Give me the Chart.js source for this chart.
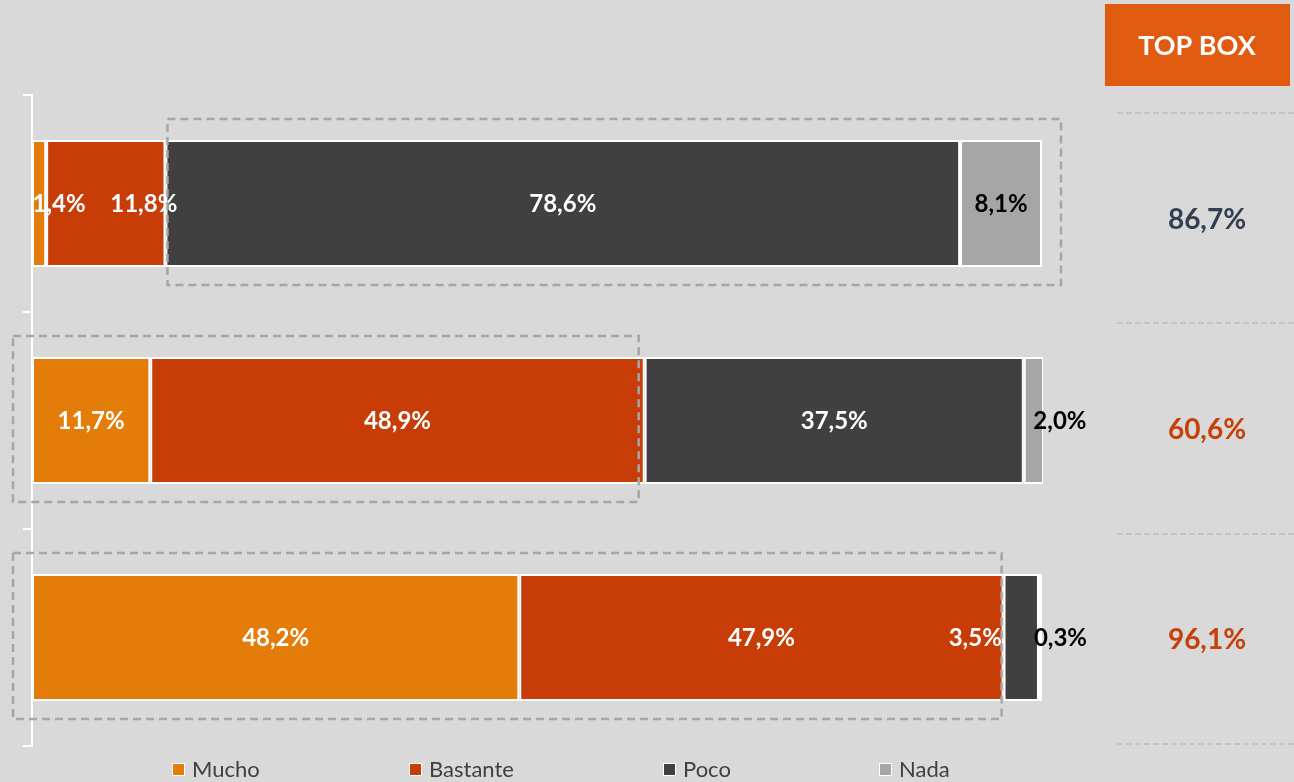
<!DOCTYPE html>
<html>
<head>
<meta charset="utf-8">
<script src="https://cdn.jsdelivr.net/npm/chart.js@4.4.1/dist/chart.umd.min.js"></script>
<style>
  body { margin: 0; background: #d9d9d9; }
  #wrap { width: 1294px; height: 782px; position: relative; }
</style>
</head>
<body>
<div id="wrap"><canvas id="topBoxChart"></canvas></div>
<script>
// Datos del gráfico
const categorias = ['Grupo 1', 'Grupo 2', 'Grupo 3'];
const series = ['Mucho', 'Bastante', 'Poco', 'Nada'];
const mucho = [1.4, 11.7, 48.2];
const bastante = [11.8, 48.9, 47.9];
const poco = [78.6, 37.5, 3.5];
const nada = [8.1, 2.0, 0.3];
const topBox = [86.7, 60.6, 96.1];
// series que suman el top box en cada fila
const topBoxSeries = [[2, 3], [0, 1], [0, 1]];

const colores = ['#e37c09', '#c83d07', '#404040', '#a6a6a6'];
const fuente = 'Lato, "Open Sans", sans-serif';

function fmt(v) {
  return v.toFixed(1).replace('.', ',') + '%';
}

// ajustes de posición de etiquetas pequeñas (fila-serie -> dx)
const ajusteEtiqueta = { '0-0': 20, '0-1': 38, '1-3': 26, '2-2': -46, '2-3': 20 };

const etiquetasPlugin = {
  id: 'etiquetas',
  afterDatasetsDraw(chart) {
    const ctx = chart.ctx;
    const xs = chart.scales.x;
    ctx.save();
    ctx.font = 'bold 24px ' + fuente;
    ctx.textAlign = 'center';
    ctx.textBaseline = 'middle';
    chart.data.datasets.forEach((ds, di) => {
      const meta = chart.getDatasetMeta(di);
      meta.data.forEach((bar, i) => {
        const k = i + '-' + di;
        const x = (bar.x + bar.base) / 2 + (ajusteEtiqueta[k] || 0);
        ctx.fillStyle = di === 3 ? '#000000' : '#ffffff';
        ctx.fillText(fmt(ds.data[i]), x, bar.y + 1);
      });
    });

    // cajas punteadas del top box
    ctx.strokeStyle = '#a6a6a6';
    ctx.lineWidth = 2.5;
    ctx.setLineDash([8, 5]);
    const padIzq = [-2, 19, 19];
    const padDer = [19, -6, -2];
    topBoxSeries.forEach((sel, i) => {
      let ini = 0;
      for (let d = 0; d < sel[0]; d++) ini += chart.data.datasets[d].data[i];
      let fin = ini;
      sel.forEach(d => fin += chart.data.datasets[d].data[i]);
      const bar = chart.getDatasetMeta(0).data[i];
      const x0 = xs.getPixelForValue(ini) - padIzq[i];
      const x1 = xs.getPixelForValue(fin) + padDer[i];
      const y0 = bar.y - bar.height / 2 - 21;
      const y1 = bar.y + bar.height / 2 + 18;
      ctx.strokeRect(x0, y0, x1 - x0, y1 - y0);
    });
    ctx.restore();
  },
  afterDraw(chart) {
    const ctx = chart.ctx;
    ctx.save();
    // cabecera TOP BOX
    ctx.fillStyle = '#e05a10';
    ctx.fillRect(1105, 4, 185, 82);
    ctx.fillStyle = '#ffffff';
    ctx.font = 'bold 27px ' + fuente;
    ctx.textAlign = 'center';
    ctx.textBaseline = 'middle';
    ctx.fillText('TOP BOX', 1197, 46);

    // separadores
    ctx.strokeStyle = '#c4c4c4';
    ctx.lineWidth = 2;
    ctx.setLineDash([6, 3]);
    [113, 323, 534, 744].forEach(y => {
      ctx.beginPath();
      ctx.moveTo(1117, y);
      ctx.lineTo(1294, y);
      ctx.stroke();
    });
    ctx.setLineDash([]);

    // valores top box
    ctx.font = 'bold 28px ' + fuente;
    const ys = [220, 430, 640];
    topBox.forEach((v, i) => {
      ctx.fillStyle = i === 0 ? '#333f50' : '#c5410a';
      ctx.fillText(fmt(v), 1207, ys[i]);
    });

    // leyenda
    const lx = [172, 409, 663, 879];
    ctx.font = '22px ' + fuente;
    ctx.textAlign = 'left';
    chart.data.datasets.forEach((ds, di) => {
      ctx.fillStyle = ds.backgroundColor;
      ctx.fillRect(lx[di], 763, 12, 12);
      ctx.strokeStyle = '#ffffff';
      ctx.lineWidth = 1;
      ctx.strokeRect(lx[di] + 0.5, 763.5, 12, 12);
      ctx.fillStyle = '#404040';
      ctx.fillText(ds.label, lx[di] + 20, 770);
    });
    ctx.restore();
  }
};

const datos = [mucho, bastante, poco, nada];

new Chart(document.getElementById('topBoxChart'), {
  type: 'bar',
  data: {
    labels: categorias,
    datasets: series.map((s, i) => ({
      label: s,
      data: datos[i],
      backgroundColor: colores[i],
      borderColor: '#ffffff',
      borderWidth: 2,
      borderSkipped: false,
      barPercentage: 0.585,
      categoryPercentage: 1
    }))
  },
  options: {
    indexAxis: 'y',
    responsive: true,
    maintainAspectRatio: false,
    animation: false,
    layout: { padding: { left: 0, right: 251, top: 95, bottom: 36 } },
    plugins: {
      legend: { display: false },
      tooltip: { enabled: false }
    },
    scales: {
      x: { stacked: true, min: 0, max: 100, display: false },
      y: {
        stacked: true,
        afterFit: s => { s.width = 32; },
        ticks: { display: false },
        border: { display: true, color: '#ffffff', width: 2 },
        grid: {
          display: true,
          offset: true,
          drawOnChartArea: false,
          drawTicks: true,
          tickLength: 9,
          color: '#ffffff',
          lineWidth: 2
        }
      }
    }
  },
  plugins: [etiquetasPlugin]
});
</script>
</body>
</html>
